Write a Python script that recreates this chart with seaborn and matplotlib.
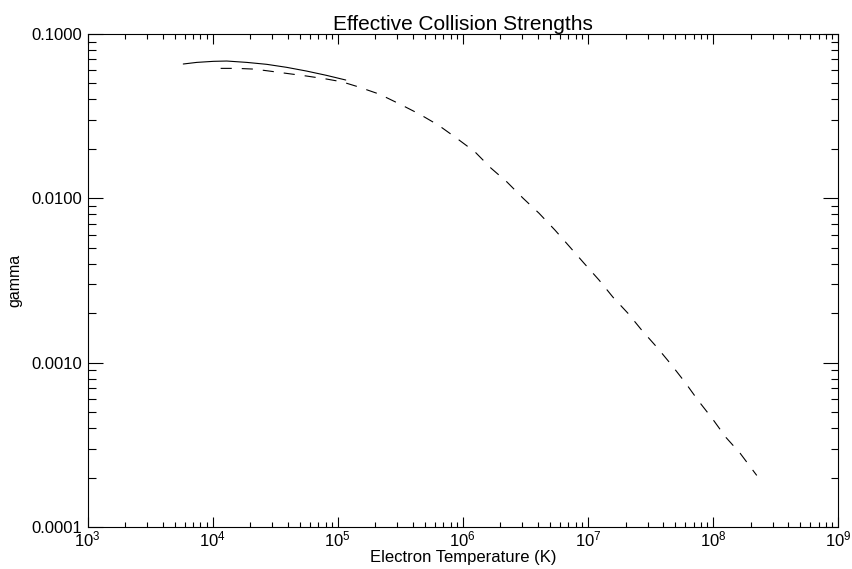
import numpy as np
import pandas as pd
import matplotlib
matplotlib.use("Agg")
import matplotlib.pyplot as plt
import seaborn as sns
from matplotlib.ticker import LogLocator, FixedLocator, FuncFormatter, NullFormatter

# solid curve
temp_solid = [5.83e3, 7.47e3, 1.014e4, 1.297e4, 1.875e4, 2.71e4, 3.91e4,
              5.65e4, 8.17e4, 1.16e5]
gamma_solid = [0.0657, 0.0672, 0.0682, 0.0685, 0.0672, 0.0654, 0.0627,
               0.0595, 0.0560, 0.0525]

# dashed curve
temp_dash = [1.16e4, 1.56e4, 2.12e4, 2.71e4, 3.91e4, 5.65e4, 8.17e4, 1.08e5,
             1.45e5, 2.15e5, 3.11e5, 4.49e5, 6.38e5, 8.95e5, 1.25e6, 1.68e6,
             2.26e6, 3.03e6, 4.07e6, 5.47e6, 7.21e6, 9.32e6, 1.23e7, 1.59e7,
             2.09e7, 2.71e7, 3.57e7, 4.62e7, 5.98e7, 7.60e7, 9.84e7, 1.27e8,
             1.65e8, 2.24e8]
gamma_dash = [0.0618, 0.0618, 0.0612, 0.0598, 0.0576, 0.0555, 0.0532, 0.0512,
              0.0478, 0.0431, 0.0376, 0.0326, 0.0279, 0.0232, 0.0192, 0.01528,
              0.01256, 0.01003, 0.00812, 0.00640, 0.00504, 0.00403, 0.00318,
              0.00250, 0.00200, 0.00157, 0.00124, 0.000978, 0.000760, 0.000590,
              0.000459, 0.000351, 0.000281, 0.000206]

x_ticks = [1e3, 1e4, 1e5, 1e6, 1e7, 1e8, 1e9]
y_ticks = [1e-4, 1e-3, 1e-2, 1e-1]

sns.set_style("white")
plt.rcParams['font.family'] = ['Liberation Sans', 'DejaVu Sans']
plt.rcParams['mathtext.fontset'] = 'custom'
plt.rcParams['mathtext.rm'] = 'Liberation Sans'
plt.rcParams['text.color'] = 'black'
plt.rcParams['axes.labelcolor'] = 'black'

fig = plt.figure(figsize=(8.52, 5.69), dpi=100)
ax = fig.add_axes([0.1027, 0.0738, 0.8809, 0.8664])

df_s = pd.DataFrame({"T": temp_solid, "g": gamma_solid})
df_d = pd.DataFrame({"T": temp_dash, "g": gamma_dash})
sns.lineplot(data=df_s, x="T", y="g", color="black", lw=0.8, sort=False, ax=ax)
sns.lineplot(data=df_d, x="T", y="g", color="black", lw=0.8, sort=False, ax=ax,
             linestyle=(0, (10, 9)))

ax.set_xscale("log")
ax.set_yscale("log")
ax.set_xlim(1e3, 1e9)
ax.set_ylim(1e-4, 1e-1)

ax.xaxis.set_major_locator(FixedLocator(x_ticks))
ax.xaxis.set_minor_locator(LogLocator(base=10, subs=np.arange(2, 10), numticks=12))
ax.yaxis.set_major_locator(FixedLocator(y_ticks))
ax.yaxis.set_minor_locator(LogLocator(base=10, subs=np.arange(2, 10), numticks=12))
ax.xaxis.set_major_formatter(FuncFormatter(
    lambda v, p: r"$\mathdefault{10^{%d}}$" % round(np.log10(v))))
ax.yaxis.set_major_formatter(FuncFormatter(lambda v, p: "%.4f" % v))
ax.yaxis.set_minor_formatter(NullFormatter())
ax.xaxis.set_minor_formatter(NullFormatter())

ax.tick_params(axis="both", which="both", direction="in", bottom=True, left=True,
               top=True, right=True, colors="black", labelsize=12, width=0.8)
ax.tick_params(axis="x", which="major", length=7, pad=2)
ax.tick_params(axis="x", which="minor", length=3.5)
ax.tick_params(axis="y", which="major", length=10.8, pad=4)
ax.tick_params(axis="y", which="minor", length=5.4)

for s in ax.spines.values():
    s.set_color("black")
    s.set_linewidth(0.8)

ax.set_title("Effective Collision Strengths", fontsize=15, pad=2, color="black")
ax.set_xlabel("Electron Temperature (K)", fontsize=12, labelpad=0)
ax.set_ylabel("gamma", fontsize=11.5, labelpad=6)

plt.savefig("out.png", dpi=100)
